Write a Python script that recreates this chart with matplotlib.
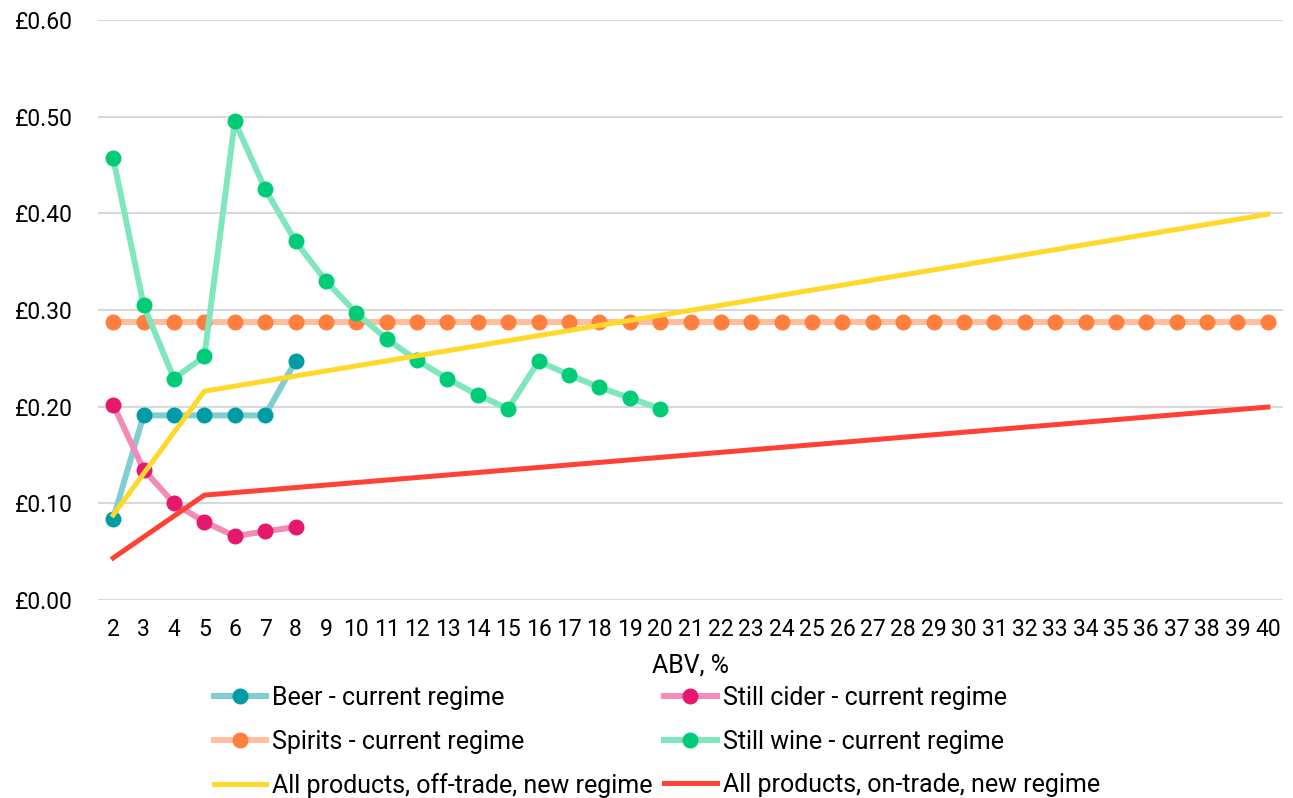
import numpy as np
import matplotlib
matplotlib.use("Agg")
import matplotlib.pyplot as plt

plt.rcParams['font.family'] = ['Roboto', 'DejaVu Sans']

abv = list(range(2, 41))
abv_beer = [2, 3, 4, 5, 6, 7, 8]
beer = [0.084, 0.191, 0.191, 0.191, 0.191, 0.191, 0.247]
cider = [0.202, 0.135, 0.100, 0.081, 0.066, 0.071, 0.0755]
spirits = [0.2875] * len(abv)
abv_wine = list(range(2, 21))
wine = [0.457, 0.305, 0.229, 0.252, 0.495, 0.425, 0.371, 0.330, 0.297, 0.270,
        0.248, 0.229, 0.212, 0.198, 0.247, 0.233, 0.220, 0.209, 0.198]
abv_new = [2, 5, 40]
off_trade = [0.088, 0.216, 0.399]
on_trade = [0.0435, 0.1085, 0.1996]

fig = plt.figure(figsize=(12.93, 7.98), dpi=100)
ax = fig.add_axes([0.0758, 0.2481, 0.9165, 0.7269])

lw = 4.3
ms = 10.5
h_beer, = ax.plot(abv_beer, beer, color='#80cdd2', lw=lw, marker='o', ms=ms,
                  mfc='#009ca6', mec='#009ca6', label='Beer - current regime', zorder=3)
h_cider, = ax.plot(abv_beer, cider, color='#f28cb6', lw=lw, marker='o', ms=ms,
                   mfc='#e6186e', mec='#e6186e', label='Still cider - current regime', zorder=3)
h_spir, = ax.plot(abv, spirits, color='#ffbe9e', lw=lw, marker='o', ms=ms,
                  mfc='#ff7f3f', mec='#ff7f3f', label='Spirits - current regime', zorder=3)
h_wine, = ax.plot(abv_wine, wine, color='#80e6bd', lw=lw, marker='o', ms=ms,
                  mfc='#00cc78', mec='#00cc78', label='Still wine - current regime', zorder=3)
h_off, = ax.plot(abv_new, off_trade, color='#ffd82a', lw=3.6,
                 label='All products, off-trade, new regime', zorder=4)
h_on, = ax.plot(abv_new, on_trade, color='#ff4136', lw=3.6,
                label='All products, on-trade, new regime', zorder=4)

ax.set_xlim(1.5, 40.5)
ax.set_ylim(0, 0.6)
ax.set_xticks(abv)
ax.set_xticklabels([str(a) for a in abv])
yt = np.arange(0, 0.61, 0.1)
ax.set_yticks(yt)
ax.set_yticklabels(['£{:.2f}'.format(v) for v in yt])
ax.tick_params(length=0, labelsize=16.5, colors='#000000')
ax.tick_params(axis='x', pad=13)
ax.tick_params(axis='y', pad=18)
ax.grid(axis='y', color='#d9d9d9', lw=1.5, zorder=0)
for s in ax.spines.values():
    s.set_visible(False)
ax.set_xlabel('ABV, %', fontsize=18, labelpad=9)

# legend fills column by column, so order the handles to read row by row
handles = [h_beer, h_spir, h_off, h_cider, h_wine, h_on]
fig.legend(handles=handles, labels=[h.get_label() for h in handles],
           loc='center', bbox_to_anchor=(0.508, 0.0702), ncol=2, frameon=False,
           fontsize=18, handlelength=2.1, handletextpad=0.25, columnspacing=0.45,
           labelspacing=0.78, numpoints=1)

fig.savefig('out.png', dpi=100)
